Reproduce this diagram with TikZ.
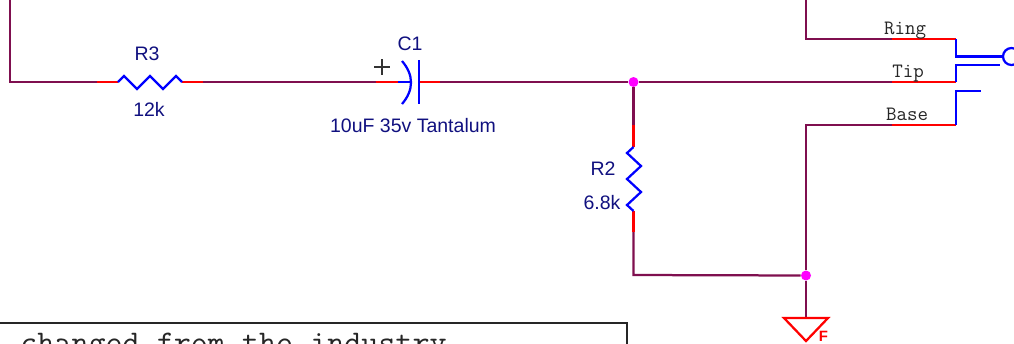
\documentclass[tikz,border=0pt]{standalone}
\usepackage{fontspec}
\setmainfont{Liberation Sans}
\definecolor{wirecol}{HTML}{7F0F4F}
\definecolor{labelcol}{HTML}{10107F}
\definecolor{pincol}{HTML}{FF0000}
\definecolor{partcol}{HTML}{0000FF}
\definecolor{dotcol}{HTML}{FF00FF}
\tikzset{
  wire/.style={draw=wirecol,line width=0.045cm},
  pin/.style={draw=pincol,line width=0.045cm},
  part/.style={draw=partcol,line width=0.045cm,line join=miter},
  dot/.style={shape=circle,fill=dotcol,inner sep=0pt,minimum size=0.2cm},
  partlabel/.style={text=labelcol,font=\fontsize{11.1}{13}\selectfont,inner sep=0pt},
  pinlabel/.style={text=black!85,anchor=base,font=\ttfamily\fontsize{11.6}{13}\selectfont,inner sep=0pt},
}
\begin{document}
\begin{tikzpicture}[x=0.02cm,y=-0.02cm]
            \useasboundingbox (0,0) rectangle (1014,343);
            \clip (0,0) rectangle (1014,343);

            \coordinate (W0) at (10,-5);
            \coordinate (W1) at (10,82);
            \coordinate (R3p) at (97,82);
            \coordinate (R3a) at (118,82);
            \coordinate (R3b) at (182,82);
            \coordinate (R3q) at (203,82);
            \coordinate (C1p) at (376,82);
            \coordinate (C1a) at (398,82);
            \coordinate (C1b) at (411,82);
            \coordinate (C1c) at (419,82);
            \coordinate (C1q) at (440,82);
            \coordinate (TipP) at (892,82);
            \coordinate (TipA) at (956,82);
            \coordinate (TipB) at (956,65);
            \coordinate (TipC) at (1000,65);
            \coordinate (RingW) at (806,-5);
            \coordinate (RingV) at (806,39);
            \coordinate (RingP) at (892,39);
            \coordinate (RingA) at (956,39);
            \coordinate (RingB) at (956,56.5);
            \coordinate (BaseV) at (806,125);
            \coordinate (BaseP) at (892,125);
            \coordinate (BaseA) at (956,125);
            \coordinate (BaseB) at (956,91);
            \coordinate (BaseC) at (981,91);
            \coordinate (R2p) at (633.5,125);
            \coordinate (R2a) at (633.5,147);
            \coordinate (R2b) at (633.5,211);
            \coordinate (R2q) at (633.5,232);
            \coordinate (R2c) at (633.5,275);
            \coordinate (GndT) at (806,318);

            \node[dot] (J1) at (633.5,82) {};
            \node[dot] (J2) at (806,275.5) {};
            \node[shape=circle,draw=partcol,line width=0.045cm,inner sep=0pt,minimum size=0.34cm] (Jack) at (1011.5,56.5) {};

            % wires
            \path[wire] (W0) -- (W1) -- (R3p);
            \path[wire] (R3q) -- (C1p);
            \path[wire] (C1q) -- (J1);
            \path[wire] (J1) -- (TipP);
            \path[wire] (RingW) -- (RingV) -- (RingP);
            \path[wire] (J2) -- (BaseV) -- (BaseP);
            \path[wire] (J1) -- (R2p);
            \path[wire] (R2q) -- (R2c) -- (J2);
            \path[wire] (J2) -- (GndT);

            % pins
            \path[pin] (R3p) -- (R3a);
            \path[pin] (R3b) -- (R3q);
            \path[pin] (C1p) -- (C1a);
            \path[pin] (C1c) -- (C1q);
            \path[pin] (TipP) -- (TipA);
            \path[pin] (RingP) -- (RingA);
            \path[pin] (BaseP) -- (BaseA);
            \path[pin] (R2p) -- (R2a);
            \path[pin] (R2b) -- (R2q);

            % parts
            \path[part] (R3a) -- (124,76) -- (137,89) -- (150,76) -- (163,89) -- (176,76) -- (R3b);
            \path[part] (R2a) -- (627,153) -- (641,166) -- (627,179) -- (641,192) -- (627,205) -- (R2b);
            \path[part] (C1a) -- (C1b);
            \path[part] (402,61) .. controls (414,75) and (414,90) .. (402,104);
            \path[part] (419,60) -- (419,104);
            \path[part] (TipA) -- (TipB) -- (TipC);
            \path[part] (RingA) -- (RingB) -- (Jack);
            \path[part] (BaseA) -- (BaseB) -- (BaseC);
            \path[draw=pincol,line width=0.045cm] (784,318) -- (828,318) -- (806,341) -- cycle;
            \path[draw=black!80,line width=0.03cm] (374,67) -- (390,67) (382,59) -- (382,75);

            \node[partlabel] (R3name) at (147,53.5) {R3};
            \node[partlabel] (R3val) at (149,109.5) {12k};
            \node[partlabel] (C1name) at (410,43.5) {C1};
            \node[partlabel] (C1val) at (413,125.5) {10uF 35v Tantalum};
            \node[partlabel] (R2name) at (603,168.5) {R2};
            \node[partlabel] (R2val) at (602,202.5) {6.8k};
            \node[pinlabel] (RingL) at (905,34) {Ring};
            \node[pinlabel] (TipL) at (908,77) {Tip};
            \node[pinlabel] (BaseL) at (907,120) {Base};
            \node[text=pincol,font=\bfseries\fontsize{8.5}{9}\selectfont,inner sep=0pt] (GndL) at (823.5,336) {F};

            \draw[line width=0.03cm,black!85] (-5,323) rectangle (627,370);
            \node[anchor=base west,inner sep=0pt,text=black!85,font=\ttfamily\fontsize{18.85}{21}\selectfont] (Note) at (20,353) {changed from the industry};
        \end{tikzpicture}
\end{document}
